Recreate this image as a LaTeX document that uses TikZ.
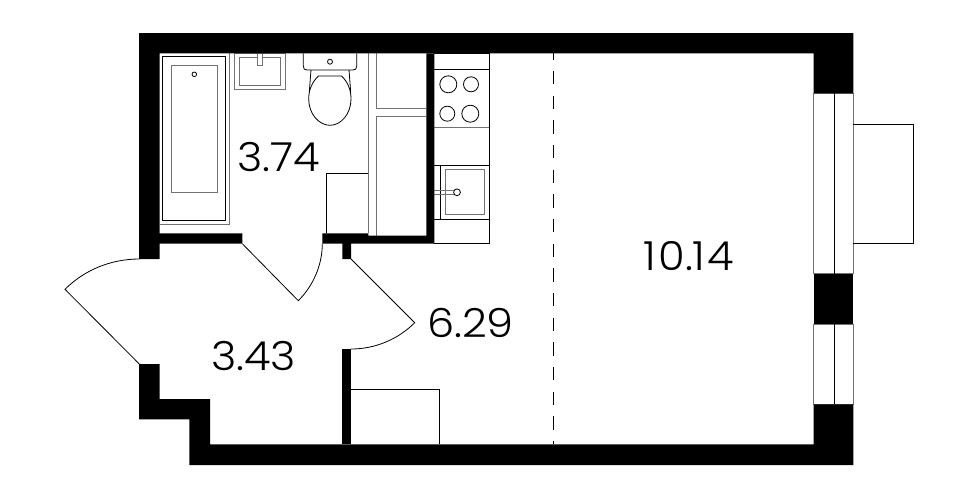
\documentclass[tikz,border=0pt]{standalone}
\usepackage{fontspec}
\setmainfont[UprightFont=* Light,FakeStretch=1.08]{Poppins}
\tikzset{
  wall/.style={fill=black,draw=none},
  fine/.style={draw=black,line width=0.8pt,fill=none},
  soft/.style={draw=black!55,line width=1pt,fill=none},
  area/.style={font=\fontsize{40}{40}\selectfont,inner sep=0pt,text=black},
}
\begin{document}
\begin{tikzpicture}[x=1pt,y=-1pt]
\useasboundingbox[fill=white] (0,0) rectangle (978,499);
% windows and balcony
\draw[soft] (813.7,93.3) rectangle (853.3,273.7);
\draw[soft] (813.7,324.3) rectangle (853.3,404.3);
\draw[fine] (834.3,93.3) -- (834.3,273.7);
\draw[fine] (834.3,324.3) -- (834.3,404.3);
\draw[fine,line width=1pt] (853.3,124) -- (913,124) -- (913,243.3) -- (853.3,243.3);
% kitchen
\draw[fine] (434.3,53.3) -- (489.3,53.3) -- (489.3,243.7) -- (434.3,243.7);
\draw[fine] (434.3,69.3) -- (489.3,69.3);
\draw[soft] (434.3,127.7) -- (489.3,127.7);
\draw[fine] (434.3,165.3) -- (489.3,165.3);
\draw[fine] (434.3,219.3) -- (489.3,219.3);
\draw[fine] (440.3,165.3) -- (440.3,219.3);
\draw[soft] (445.3,169.7) rectangle (484.7,214.3);
\draw[soft,line width=0.8pt] (434.3,190.6) -- (453.6,190.6);
\draw[soft,line width=0.8pt] (434.3,194) -- (453.6,194);
\draw[fine,fill=white] (457,192.3) circle[radius=3.4];
\draw[fine] (448.3,84.3) circle[radius=8.5];
\draw[fine] (471,84.3) circle[radius=7.5];
\draw[fine] (447.3,113.7) circle[radius=7.5];
\draw[fine] (470.3,113.7) circle[radius=8.5];
% bath
\draw[soft,line width=0.8pt] (159.5,224) -- (229.3,224) -- (229.3,53.3);
\draw[fine] (162.3,56.7) rectangle (225.7,220.3);
\draw[soft] (171.3,65.7) rectangle (217.3,192.7);
\draw[fine] (194.3,74.3) circle[radius=2.3];
% basin
\draw[soft] (234,53.3) rectangle (285,89);
\draw[soft] (239.3,57.3) rectangle (280,85.3);
\draw[soft,fill=white] (257.3,53.3) rectangle (262.3,65);
% toilet
\draw[fine] (303.3,53.3) -- (303.3,66) .. controls (303.3,69) and (304.5,70) .. (307.3,70) -- (352.7,70) .. controls (355.5,70) and (356.7,69) .. (356.7,66) -- (356.7,53.3);
\draw[fine] (330,61.7) circle[radius=2.5];
\draw[fine] (311,70) -- (309.3,92);
\draw[fine] (349,70) -- (350.7,92);
\draw[fine] (318.5,76) -- (341.5,76) .. controls (348,82) and (351,90) .. (351,99) .. controls (351,114) and (341,125.3) .. (330,125.3) .. controls (319,125.3) and (308.7,114) .. (308.7,99) .. controls (308.7,90) and (312,82) .. (318.5,76) -- cycle;
% bathroom cabinets
\draw[soft] (368.3,53.3) -- (368.3,233.3);
\draw[soft] (376,53.3) -- (376,108.3) -- (426.3,108.3);
\draw[soft] (426.3,116.3) -- (376,116.3) -- (376,235.7);
\draw[fine] (326.7,233.3) -- (326.7,173.3) -- (368.3,173.3);
% hall box
\draw[fine] (351,389.3) -- (439.7,389.3) -- (439.7,444.3);
% zone line
\draw[fine,dash pattern=on 13.3pt off 11.37pt,dash phase=7pt] (553.3,53.3) -- (553.3,444.3);
% doors
\coordinate (hingeA) at (242.3,243.7);
\coordinate (leafA) at (298.3,300.7);
\coordinate (jambA) at (322.3,243.7);
\draw[fine] (hingeA) -- (leafA) .. controls (313.3,285.7) and (322.3,264.9) .. (jambA);
\coordinate (hingeB) at (139.3,364);
\coordinate (leafB) at (65,289.3);
\coordinate (jambB) at (139.3,259);
\draw[fine] (hingeB) -- (leafB) .. controls (84.7,269.6) and (111.5,259) .. (jambB);
\coordinate (hingeC) at (351,259);
\coordinate (leafC) at (414.7,322.7);
\coordinate (jambC) at (351,349);
\draw[fine] (hingeC) -- (leafC) .. controls (397.8,339.6) and (374.9,349) .. (jambC);
% walls
\fill[wall] (139,33) -- (853.3,33) -- (853.3,93.3) -- (813.7,93.3) -- (813.7,53.3) -- (159.5,53.3) -- (159.5,233.3) -- (242.3,233.3) -- (242.3,243.7) -- (159.5,243.7) -- (159.5,259) -- (139,259) -- cycle;
\fill[wall] (813.7,273.7) rectangle (853.3,324.3);
\fill[wall] (853.3,404.3) -- (853.3,465) -- (189.3,465) -- (189.3,419.3) -- (139,419.3) -- (139,364) -- (159.5,364) -- (159.5,399) -- (210,399) -- (210,444.3) -- (813.7,444.3) -- (813.7,404.3) -- cycle;
\fill[wall] (342.3,349) rectangle (351,444.3);
\fill[wall] (322.3,233.3) -- (368.3,233.3) -- (368.3,235.7) -- (426.3,235.7) -- (426.3,53.3) -- (434.3,53.3) -- (434.3,243.7) -- (351,243.7) -- (351,259) -- (342.3,259) -- (342.3,243.7) -- (322.3,243.7) -- cycle;
% labels
\node[area] (bath) at (278.5,157) {3.74};
\node[area] (hall) at (253.5,356) {3.43};
\node[area] (kitchen) at (470.5,323) {6.29};
\node[area] (room) at (689,256) {1\kern2pt 0.1\kern2pt 4};
\end{tikzpicture}
\end{document}
